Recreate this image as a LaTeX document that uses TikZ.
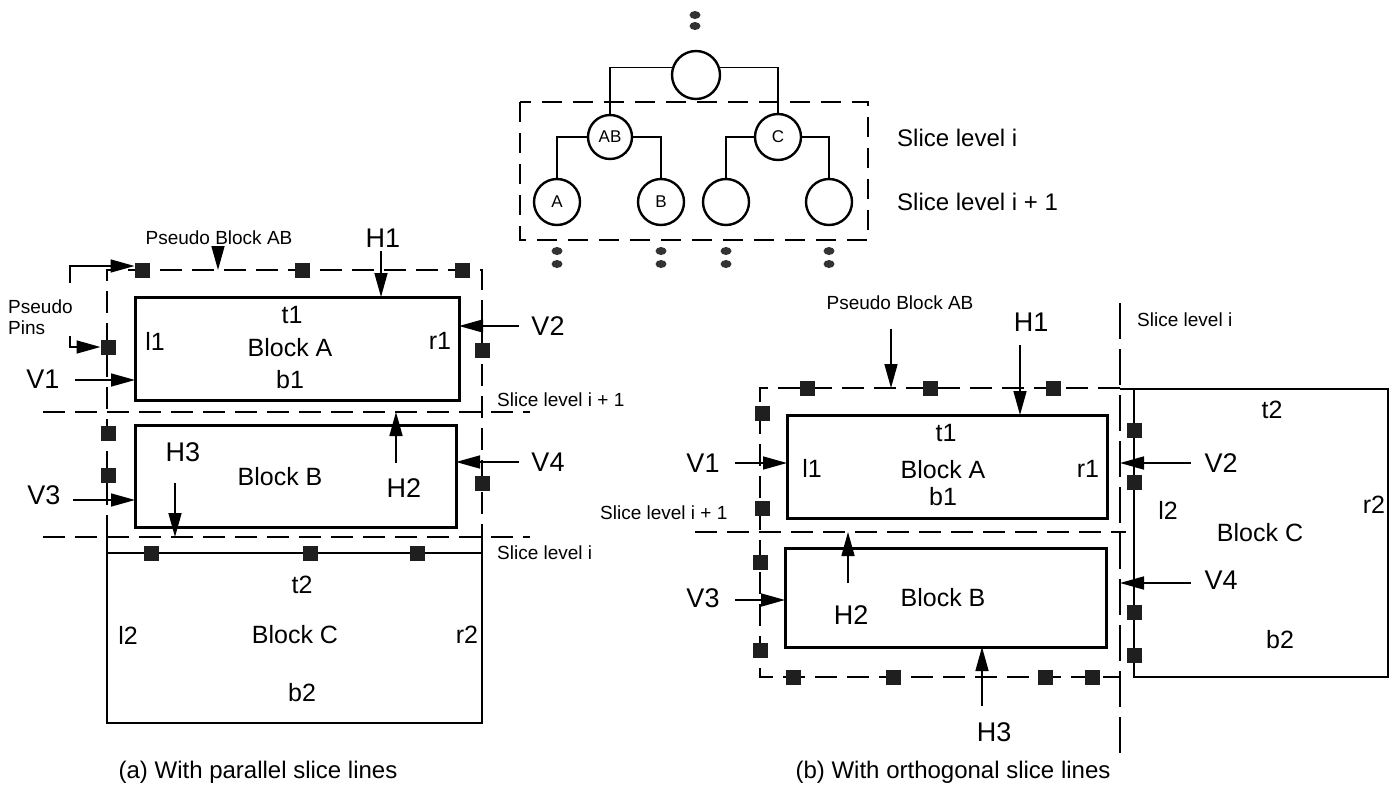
\documentclass[tikz,border=0pt]{standalone}
\usepackage{fontspec}
\setmainfont{Liberation Sans}
\usetikzlibrary{arrows.meta,calc}
\newcommand\fSm{\fontsize{19}{21}\selectfont}
\newcommand\fBk{\fontsize{25}{28}\selectfont}
\newcommand\fHV{\fontsize{27}{30}\selectfont}
\newcommand\fTr{\fontsize{24}{26}\selectfont}
\newcommand\fCp{\fontsize{24}{27}\selectfont}
\newcommand\fNd{\fontsize{17}{18}\selectfont}
\begin{document}
\begin{tikzpicture}[x=1pt,y=-1pt,
  pin/.style={rectangle,fill=black!88,minimum size=15pt,inner sep=0pt,outer sep=0pt},
  blk/.style={draw,line width=3pt,rectangle,anchor=north west,inner sep=0pt,outer sep=0pt},
  blkthin/.style={draw,line width=1.6pt,rectangle,anchor=north west,inner sep=0pt,outer sep=0pt},
  ln/.style={line width=1.6pt},
  arr/.style={line width=1.6pt,-{Triangle[length=24pt,width=13pt]}},
  dsh/.style={line width=1.6pt,dash pattern=on 22pt off 10pt},
  tdsh/.style={line width=1.6pt,dash pattern=on 20pt off 11pt},
  ldsh/.style={line width=1.7pt,dash pattern=on 36pt off 10pt},
  tnode/.style={draw,circle,line width=2.4pt,inner sep=0pt,font=\fNd},
  lab/.style={inner sep=0pt},
  sm/.style={lab,font=\fSm},
  bk/.style={lab,font=\fBk},
  hv/.style={lab,font=\fHV},
  tr/.style={lab,font=\fTr,anchor=west},
  tdot/.style={fill=black!80}
]
\useasboundingbox (0,0) rectangle (1396,811);

% ================= tree =================
\node[tnode,minimum size=48pt] (root) at (696,75) {};
\node[tnode,minimum size=44pt] (nAB) at (610,137) {AB};
\node[tnode,minimum size=46pt] (nC) at (778,137) {C};
\node[tnode,minimum size=46pt] (nA) at (557,202) {A};
\node[tnode,minimum size=46pt] (nB) at (661,202) {B};
\node[tnode,minimum size=46pt] (nL3) at (726,202) {};
\node[tnode,minimum size=46pt] (nL4) at (829,202) {};
\draw[ln] (root.163) -| (nAB.north);
\draw[ln] (root.17) -| (nC.north);
\draw[ln] (nAB.west) -| (nA.north);
\draw[ln] (nAB.east) -| (nB.north);
\draw[ln] (nC.west) -| (nL3.north);
\draw[ln] (nC.east) -| (nL4.north);
\coordinate (tb1) at (520,102);
\coordinate (tb2) at (868,240);
\draw[tdsh] (tb1) rectangle (tb2);
\fill[tdot] (695,15) ellipse (5.5 and 4);
\fill[tdot] (695,26) ellipse (5.5 and 4);
\foreach \xx in {557,661,726,829}{
  \fill[tdot] (\xx,251) ellipse (5.5 and 4);
  \fill[tdot] (\xx,264) ellipse (5.5 and 4);
}
\node[tr] (tl1) at (897,138) {Slice level i};
\node[tr] (tl2) at (897,202) {Slice level i + 1};

% ================= (a) parallel =================
\coordinate (sA1s) at (43,412); \coordinate (sA1e) at (530,412);
\coordinate (sA2s) at (43,537); \coordinate (sA2e) at (530,537);
\draw[dsh] (sA1s) -- (sA1e);
\draw[dsh] (sA2s) -- (sA2e);
\coordinate (pbA1) at (107,270); \coordinate (pbA2) at (482,537);
\draw[dsh] (pbA1 |- pbA2) -- (pbA1) -- (pbA1 -| pbA2) -- (pbA2);

\node[blk,minimum width=324pt,minimum height=103pt] (Aa) at (135,297) {};
\node[blk,minimum width=321pt,minimum height=102pt] (Ba) at (135,425) {};
\node[blkthin,minimum width=375pt,minimum height=170pt] (Ca) at (107,553) {};
\draw[ln] (Ca.north west) -- (Ca.north west |- sA2s);
\draw[ln] (Ca.north east) -- (Ca.north east |- sA2s);

% pins (a)
\node[pin] (paT1) at (142,270) {};
\node[pin] (paT2) at (302,270) {};
\node[pin] (paT3) at (462,270) {};
\node[pin] (paL1) at (108,347) {};
\node[pin] (paL2) at (108,433) {};
\node[pin] (paL3) at (108,475) {};
\node[pin] (paR1) at (482,350) {};
\node[pin] (paR2) at (482,483) {};
\node[pin] (paC1) at (151,553) {};
\node[pin] (paC2) at (310,553) {};
\node[pin] (paC3) at (417,553) {};

% labels in blocks (a)
\node[bk] (at1) at (292,315) {t1};
\node[bk] (al1) at (155,341) {l1};
\node[bk] (aBA) at (290,348) {Block A};
\node[bk] (ab1) at (290,380) {b1};
\node[bk] (ar1) at (440,341) {r1};
\node[bk] (aBB) at (280,477) {Block B};
\node[bk] (at2) at (302,585) {t2};
\node[bk] (al2) at (128,635) {l2};
\node[bk] (aBC) at (295,635) {Block C};
\node[bk] (ar2) at (467,635) {r2};
\node[bk] (ab2) at (302,693) {b2};

% pseudo pins
\node[sm,anchor=west,align=left] (ppl) at (8,317) {Pseudo\\Pins};
\coordinate (pp1) at (70,283);
\coordinate (pp2) at (70,336);
\draw[arr] (pp1) |- ([yshift=4pt]paT1.west);
\draw[arr] (pp2) |- (paL1.west);

% arrows (a)
\node[sm] (apb) at (219,238) {Pseudo Block AB};
\coordinate (apbs) at (218,250);
\draw[arr] (apbs) -- (apbs |- pbA1);
\node[hv] (aH1) at (383,238) {H1};
\coordinate (ah1s) at (381,251);
\draw[arr] (ah1s) -- (ah1s |- Aa.north);
\node[hv] (aV1) at (43,379) {V1};
\coordinate (av1s) at (75,380);
\draw[arr] (av1s) -- (av1s -| Aa.west);
\node[hv] (aV2) at (548,326) {V2};
\coordinate (av2s) at (519,326);
\draw[arr] (av2s) -- (av2s -| Aa.east);
\node[hv] (aV3) at (44,495) {V3};
\coordinate (av3s) at (73,500);
\draw[arr] (av3s) -- (av3s -| Ba.west);
\node[hv] (aV4) at (548,462) {V4};
\coordinate (av4s) at (519,462);
\draw[arr] (av4s) -- (av4s -| Ba.east);
\node[hv] (aH2) at (404,488) {H2};
\coordinate (ah2s) at (396,463);
\draw[arr] (ah2s) -- (ah2s |- sA1s);
\node[hv] (aH3) at (183,452) {H3};
\coordinate (ah3s) at (175,483);
\draw[arr] (ah3s) -- (ah3s |- sA2s);
\node[sm,anchor=west] (asl1) at (497,400) {Slice level i + 1};
\node[sm,anchor=west] (asl2) at (497,553) {Slice level i};

% ================= (b) orthogonal =================
\coordinate (vS1) at (1120,303); \coordinate (vS2) at (1120,760);
\draw[ldsh] (vS1) -- (vS2);
\coordinate (sB1s) at (695,532); \coordinate (sB1e) at (1126,532);
\draw[dsh] (sB1s) -- (sB1e);
\coordinate (pbB1) at (760,388); \coordinate (pbB2) at (1120,677);
\draw[dsh] (pbB1 -| pbB2) -- (pbB1) -- (pbB1 |- pbB2) -- (pbB2);

\node[blk,minimum width=320pt,minimum height=103pt] (Ab) at (787,415) {};
\node[blk,minimum width=321pt,minimum height=99pt] (Bb) at (785,548) {};
\node[blkthin,minimum width=254pt,minimum height=288pt] (Cb) at (1134,389) {};
\draw[ln] (Cb.north west) -- (Cb.north west -| vS1);

% pins (b)
\node[pin] (pbT1) at (807,388) {};
\node[pin] (pbT2) at (930,388) {};
\node[pin] (pbT3) at (1053,388) {};
\node[pin] (pbL1) at (762,413) {};
\node[pin] (pbL2) at (762,508) {};
\node[pin] (pbL3) at (760,562) {};
\node[pin] (pbL4) at (760,650) {};
\node[pin] (pbB1n) at (793,677) {};
\node[pin] (pbB2n) at (893,677) {};
\node[pin] (pbB3n) at (1045,677) {};
\node[pin] (pbB4n) at (1092,677) {};
\node[pin] (pbC1) at (1134,430) {};
\node[pin] (pbC2) at (1134,482) {};
\node[pin] (pbC3) at (1134,612) {};
\node[pin] (pbC4) at (1134,655) {};

% labels in blocks (b)
\node[bk] (bt1) at (946,433) {t1};
\node[bk] (bl1) at (812,468) {l1};
\node[bk] (bBA) at (943,470) {Block A};
\node[bk] (bb1) at (943,497) {b1};
\node[bk] (br1) at (1088,469) {r1};
\node[bk] (bBB) at (943,598) {Block B};
\node[bk] (bt2) at (1272,410) {t2};
\node[bk] (bl2) at (1168,510) {l2};
\node[bk] (bBC) at (1260,533) {Block C};
\node[bk] (br2) at (1374,505) {r2};
\node[bk] (bb2) at (1280,640) {b2};

% arrows (b)
\node[sm] (bpb) at (900,303) {Pseudo Block AB};
\coordinate (bpbs) at (891,329);
\draw[arr] (bpbs) -- (bpbs |- pbB1);
\node[hv] (bH1) at (1031,322) {H1};
\coordinate (bh1s) at (1020,345);
\draw[arr] (bh1s) -- (bh1s |- Ab.north);
\node[hv] (bV1) at (703,463) {V1};
\coordinate (bv1s) at (735,463);
\draw[arr] (bv1s) -- (bv1s -| Ab.west);
\node[hv] (bV2) at (1221,463) {V2};
\coordinate (bv2s) at (1191,463);
\draw[arr] (bv2s) -- (bv2s -| vS1);
\node[hv] (bV3) at (703,598) {V3};
\coordinate (bv3s) at (735,600);
\draw[arr] (bv3s) -- (bv3s -| Bb.west);
\node[hv] (bV4) at (1221,580) {V4};
\coordinate (bv4s) at (1191,583);
\draw[arr] (bv4s) -- (bv4s -| vS1);
\node[hv] (bH2) at (851,615) {H2};
\coordinate (bh2s) at (848,583);
\draw[arr] (bh2s) -- (bh2s |- sB1s);
\node[hv] (bH3) at (994,732) {H3};
\coordinate (bh3s) at (982,706);
\draw[arr] (bh3s) -- (bh3s |- Bb.south);
\node[sm,anchor=west] (bsl1) at (600,513) {Slice level i + 1};
\node[sm,anchor=west] (bsl2) at (1137,320) {Slice level i};

% captions
\node[lab,font=\fCp] (capa) at (258,772) {(a) With parallel slice lines};
\node[lab,font=\fCp] (capb) at (953,772) {(b) With orthogonal slice lines};
\end{tikzpicture}
\end{document}
